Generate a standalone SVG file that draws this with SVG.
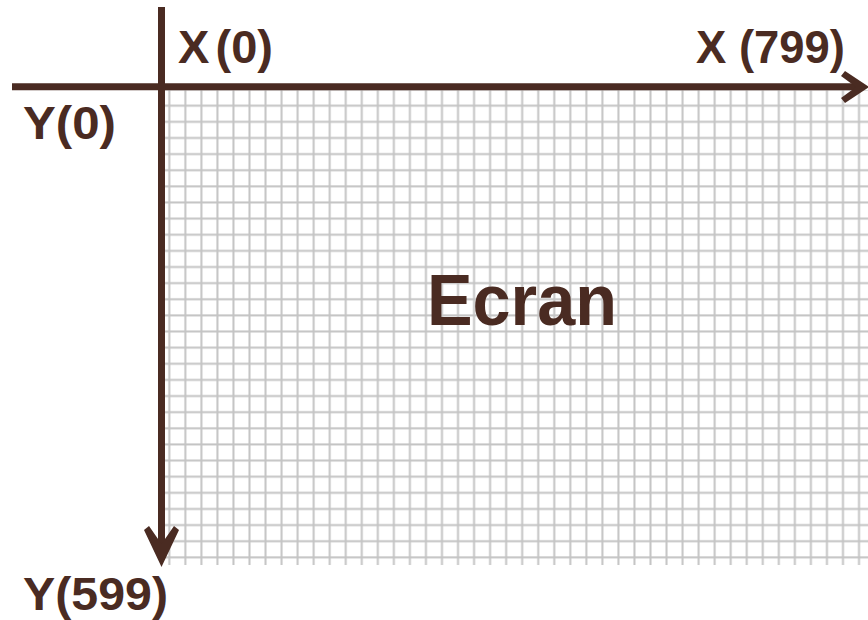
<svg xmlns="http://www.w3.org/2000/svg" width="868" height="620" viewBox="0 0 868 620">
<style>
.lbl{font-family:"Liberation Sans",Arial,sans-serif;font-weight:bold;fill:#4a2b22}
.axis{stroke:#4a2b22;stroke-width:7;fill:none}
.head{fill:#4a2b22}
</style>
<defs>
<pattern id="grid" x="161.3" y="97.7" width="16.04" height="16.13" patternUnits="userSpaceOnUse">
<rect x="7" y="0" width="2" height="16.13" fill="#c4c4c4"/>
<rect x="0" y="7" width="16.04" height="2" fill="#c4c4c4"/>
</pattern>
</defs>
<rect width="868" height="620" fill="#ffffff"/>
<g id="screen">
<rect x="165" y="90" width="703" height="475" fill="url(#grid)"/>
<text class="lbl" x="427" y="325" font-size="72" textLength="190" lengthAdjust="spacingAndGlyphs">Ecran</text>
</g>
<g id="connectors">
<line class="axis" x1="12" y1="86.7" x2="858" y2="86.7"/>
<polygon class="head" points="869,87 845,71 841,76 856,87 841,98 845,103"/>
<line class="axis" x1="161.5" y1="7" x2="161.5" y2="555"/>
<polygon class="head" points="161.5,567 144,530 149,526 161.5,544 174,526 179,530"/>
</g>
<g id="labels">
<text class="lbl" x="178" y="63" font-size="46" textLength="95" lengthAdjust="spacingAndGlyphs">X<tspan dx="6">(0)</tspan></text>
<text class="lbl" x="696" y="63" font-size="46" textLength="149" lengthAdjust="spacingAndGlyphs">X (799)</text>
<text class="lbl" x="23" y="139" font-size="46" textLength="93" lengthAdjust="spacingAndGlyphs">Y(0)</text>
<text class="lbl" x="23" y="610" font-size="46" textLength="145" lengthAdjust="spacingAndGlyphs">Y(599)</text>
</g>
</svg>
